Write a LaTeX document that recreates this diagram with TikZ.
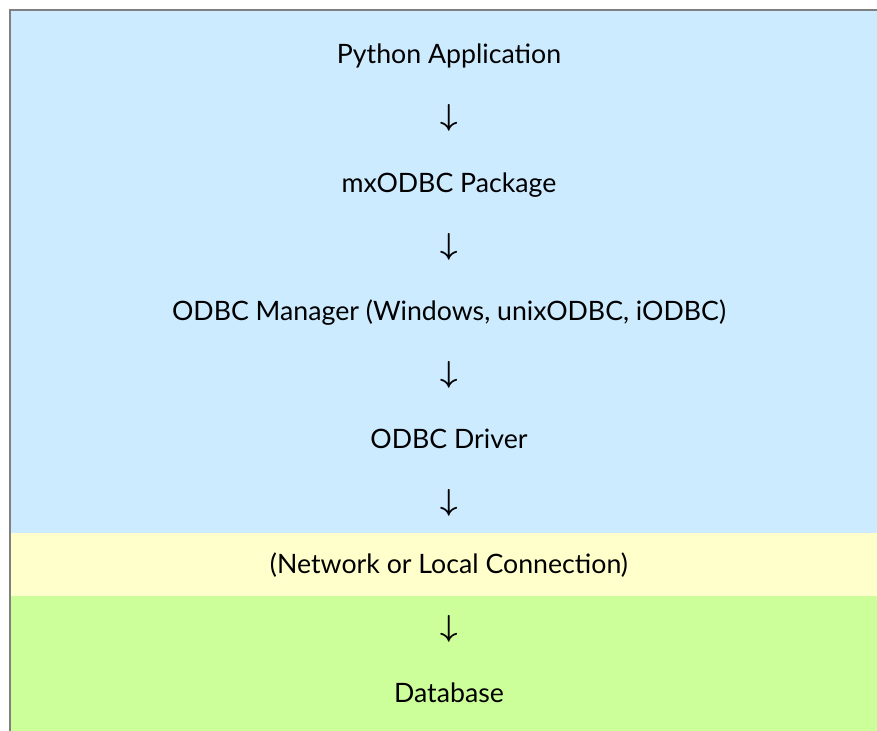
\documentclass[tikz,border=0pt]{standalone}
\usepackage{fontspec}
\setmainfont{Lato}
\usepackage{tikz}
\usetikzlibrary{positioning}
\definecolor{layerblue}{HTML}{CCEBFF}
\definecolor{layeryellow}{HTML}{FFFFCC}
\definecolor{layergreen}{HTML}{CCFF99}
\definecolor{framegray}{HTML}{808080}

\begin{document}
\begin{tikzpicture}[
    x=0.02cm, y=-0.02cm,
    layer/.style={inner sep=0pt, anchor=base, font=\fontsize{15.2}{18}\selectfont},
    flow/.style={inner sep=0pt, anchor=center, font=\fontsize{16}{19}\selectfont\boldmath}
]
\useasboundingbox (0,0) rectangle (877,731);

% Background bands
\fill[layerblue] (10,10) rectangle (877,533);
\fill[layeryellow] (10,533) rectangle (877,596);
\fill[layergreen] (10,596) rectangle (877,731);
\draw[framegray, line width=0.045cm] (9.8,731) -- (9.8,9.8) -- (877,9.8);

% Stack
\node[layer] (app) at (449,63) {Python Application};
\node[flow] (arr1) at (449,118) {$\downarrow$};
\node[layer] (pkg) at (449,192) {mxODBC Package};
\node[flow] (arr2) at (449,247) {$\downarrow$};
\node[layer] (mgr) at (449,320) {ODBC Manager (Windows, unixODBC, iODBC)};
\node[flow] (arr3) at (449,375) {$\downarrow$};
\node[layer] (drv) at (449,448) {ODBC Driver};
\node[flow] (arr4) at (449,503) {$\downarrow$};
\node[layer] (conn) at (449,573) {(Network or Local Connection)};
\node[flow] (arr5) at (449,629) {$\downarrow$};
\node[layer] (db) at (449,702) {Database};

\end{tikzpicture}
\end{document}
